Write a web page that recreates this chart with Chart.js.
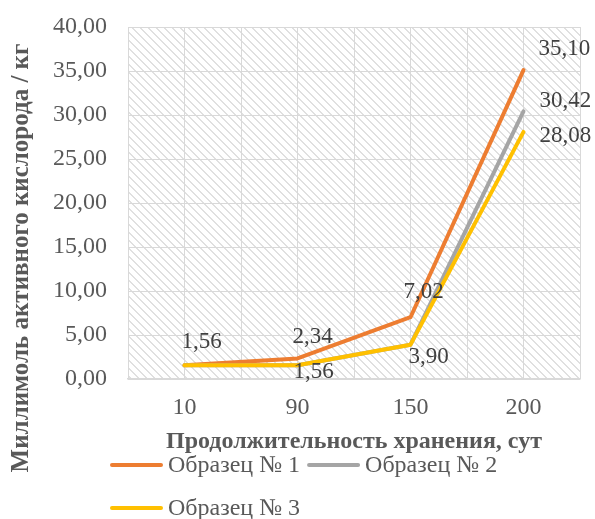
<!DOCTYPE html>
<html lang="ru">
<head>
<meta charset="utf-8">
<script src="https://cdn.jsdelivr.net/npm/chart.js@4/dist/chart.umd.min.js"></script>
<style>
  html, body { margin: 0; padding: 0; background: #ffffff; }
  #wrap { width: 595px; height: 519px; position: relative; }
</style>
</head>
<body>
<div id="wrap"><canvas id="chart" width="595" height="519"></canvas></div>
<script>
// Storage time, days
const categories = ['10', '90', '150', '200'];
// Active oxygen, mmol/kg
const sample1 = [1.56, 2.34, 7.02, 35.10];
const sample2 = [1.56, 1.56, 3.90, 30.42];
const sample3 = [1.56, 1.56, 3.90, 28.08];
const seriesNames = ['Образец № 1', 'Образец № 2', 'Образец № 3'];
const yMin = 0, yMax = 40, yStep = 5;
const xTitle = 'Продолжительность хранения, сут';
const yTitle = 'Миллимоль активного кислорода / кг';

// Which points carry a value label, and where the label sits relative to the point
const labelPlacement = [
  { series: 0, index: 0, dx: -3,  dy: -17 },
  { series: 0, index: 1, dx: -5,  dy: -15 },
  { series: 2, index: 1, dx: -4,  dy: 13 },
  { series: 0, index: 2, dx: -7,  dy: -19 },
  { series: 2, index: 2, dx: -2,  dy: 18 },
  { series: 0, index: 3, dx: 15,  dy: -15 },
  { series: 1, index: 3, dx: 16,  dy: -4 },
  { series: 2, index: 3, dx: 16,  dy: 10 }
];

const colors = ['#ED7D31', '#A5A5A5', '#FFC000'];
const FONT = '"Liberation Serif", "Times New Roman", serif';
const GRID = '#D9D9D9';

const fmt = v => v.toFixed(2).replace('.', ',');

function makeHatch(ctx) {
  const tile = document.createElement('canvas');
  tile.width = 8; tile.height = 8;
  const t = tile.getContext('2d');
  t.fillStyle = '#ffffff';
  t.fillRect(0, 0, 8, 8);
  t.fillStyle = '#E0E0E0';
  for (let y = 0; y < 8; y++) {
    for (let x = 0; x < 8; x++) {
      if (((x - y) % 8 + 8) % 8 < 2) t.fillRect(x, y, 1, 1);
    }
  }
  return ctx.createPattern(tile, 'repeat');
}

const plotBackground = {
  id: 'plotBackground',
  beforeDraw(chart) {
    const { ctx, chartArea: a, scales: { x } } = chart;
    ctx.save();
    ctx.fillStyle = makeHatch(ctx);
    ctx.fillRect(a.left, a.top, a.right - a.left, a.bottom - a.top);
    // vertical lines between categories and at the plot edges
    ctx.strokeStyle = GRID;
    ctx.lineWidth = 1;
    const half = (x.getPixelForValue(1) - x.getPixelForValue(0)) / 2;
    for (let i = 0; i <= categories.length; i++) {
      const px = Math.round(x.getPixelForValue(i) - half) + 0.5;
      ctx.beginPath();
      ctx.moveTo(px, a.top);
      ctx.lineTo(px, a.bottom);
      ctx.stroke();
    }
    ctx.restore();
  }
};

// Vertical axis title, centred on the whole figure height
const sideTitle = {
  id: 'sideTitle',
  afterDraw(chart) {
    const { ctx } = chart;
    ctx.save();
    ctx.translate(22, 258);
    ctx.rotate(-Math.PI / 2);
    ctx.font = 'bold 25px ' + FONT;
    ctx.fillStyle = '#595959';
    ctx.textAlign = 'center';
    ctx.textBaseline = 'middle';
    ctx.fillText(yTitle, 0, 0);
    ctx.restore();
  }
};

const valueLabels = {
  id: 'valueLabels',
  afterDatasetsDraw(chart) {
    const { ctx } = chart;
    ctx.save();
    ctx.font = '23px ' + FONT;
    ctx.fillStyle = '#404040';
    ctx.textAlign = 'left';
    ctx.textBaseline = 'alphabetic';
    labelPlacement.forEach(p => {
      const pt = chart.getDatasetMeta(p.series).data[p.index];
      const v = chart.data.datasets[p.series].data[p.index];
      ctx.fillText(fmt(v), pt.x + p.dx, pt.y + p.dy);
    });
    ctx.restore();
  }
};

const bottomLegend = {
  id: 'bottomLegend',
  afterDraw(chart) {
    const { ctx } = chart;
    ctx.save();
    ctx.font = '24px ' + FONT;
    ctx.fillStyle = '#595959';
    ctx.textBaseline = 'middle';
    ctx.textAlign = 'left';
    const startX = 110, rows = [465, 508], lineLen = 53, gapText = 5, gapItem = 7, perRow = 2;
    chart.data.datasets.forEach((ds, i) => {
      const row = Math.floor(i / perRow);
      let x = startX;
      for (let j = row * perRow; j < i; j++) {
        x += lineLen + gapText + ctx.measureText(chart.data.datasets[j].label).width + gapItem;
      }
      const y = rows[row];
      ctx.strokeStyle = ds.borderColor;
      ctx.lineWidth = 4;
      ctx.lineCap = 'round';
      ctx.beginPath();
      ctx.moveTo(x + 2, y);
      ctx.lineTo(x + lineLen - 2, y);
      ctx.stroke();
      ctx.fillText(ds.label, x + lineLen + gapText, y + 1);
    });
    ctx.restore();
  }
};

const seriesData = [sample1, sample2, sample3];

new Chart(document.getElementById('chart'), {
  type: 'line',
  data: {
    labels: categories,
    datasets: seriesData.map((d, i) => ({
      label: seriesNames[i],
      data: d,
      borderColor: colors[i],
      backgroundColor: colors[i],
      borderWidth: 4,
      borderCapStyle: 'round',
      borderJoinStyle: 'round',
      pointRadius: 0,
      pointHoverRadius: 0,
      tension: 0,
      fill: false,
      order: seriesData.length - 1 - i
    }))
  },
  options: {
    responsive: false,
    animation: false,
    events: [],
    layout: { padding: { left: 0, right: 15, top: 27, bottom: 60 } },
    plugins: {
      legend: { display: false },
      tooltip: { enabled: false }
    },
    scales: {
      x: {
        type: 'category',
        offset: true,
        grid: { display: true, offset: false, color: GRID, lineWidth: 1, drawTicks: false },
        border: { display: true, color: GRID, width: 1.5 },
        ticks: { color: '#595959', font: { family: FONT, size: 24 }, padding: 14, maxRotation: 0 },
        title: {
          display: true, text: xTitle, color: '#595959',
          font: { family: FONT, size: 24, weight: 'bold' },
          padding: { top: 0, bottom: 3 }
        },
        afterFit(scale) {
          scale.height = 80;
          scale.paddingLeft = 0; scale.paddingRight = 0;
          scale.paddingTop = 0; scale.paddingBottom = 0;
        }
      },
      y: {
        min: yMin, max: yMax,
        grid: { color: GRID, lineWidth: 1, drawTicks: false },
        border: { display: true, color: GRID, width: 1 },
        ticks: {
          stepSize: yStep, color: '#595959', padding: 21,
          font: { family: FONT, size: 24 },
          callback: v => fmt(v)
        },
        title: { display: false },
        afterFit(scale) {
          scale.width = 128;
          scale.paddingTop = 0; scale.paddingBottom = 0;
          scale.paddingLeft = 0; scale.paddingRight = 0;
        }
      }
    }
  },
  plugins: [plotBackground, valueLabels, bottomLegend, sideTitle]
});
</script>
</body>
</html>
